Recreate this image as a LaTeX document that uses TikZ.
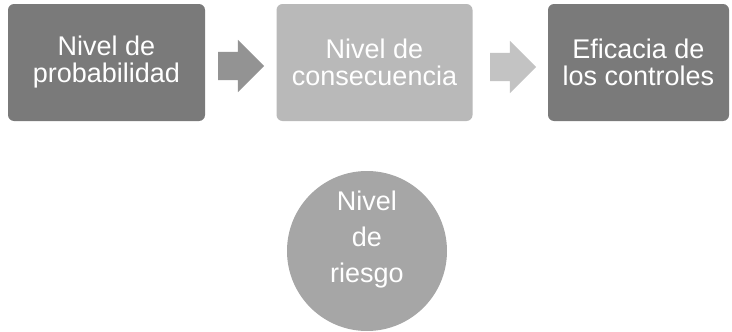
\documentclass[tikz,border=0pt]{standalone}
\usepackage{fontspec}
\setmainfont{Liberation Sans}
\usepackage{tikz}
\usetikzlibrary{shapes.arrows}
\definecolor{darkstep}{HTML}{7A7A7A}
\definecolor{lightstep}{HTML}{B9B9B9}
\definecolor{riskfill}{HTML}{A6A6A6}

\begin{document}
\begin{tikzpicture}[x=1pt,y=-1pt,
  stepbox/.style={rounded corners=6pt,minimum height=117pt,align=center,text=white,
    font=\fontsize{27}{27}\selectfont,inner sep=0pt},
  stepArrow/.style={single arrow,minimum height=46pt,minimum width=52pt,
    single arrow head extend=12pt,inner xsep=0pt,inner ysep=14pt}]
  \useasboundingbox (0,0) rectangle (732,332);
  \node[stepbox,fill=darkstep,minimum width=197pt] (prob) at (106.5,62.5) {Nivel de\\probabilidad};
  \node[stepbox,fill=lightstep,minimum width=196pt] (cons) at (374.5,62.5) {Nivel de\\consecuencia};
  \node[stepbox,fill=darkstep,minimum width=181pt] (ctrl) at (638.5,62.5) {Eficacia de\\los controles};
  \node[stepArrow,fill=gray!85] (arr1) at (234,66) {};
  \node[stepArrow,fill=lightstep!85] (arr2) at (506,67) {};
  % resultado
  \node[circle,fill=riskfill,minimum size=160pt,inner sep=0pt] (riesgo) at (367,251) {};
  \node[align=center,text=white,font=\fontsize{27}{36}\selectfont] (riesgotxt)
    at (367,240) {Nivel\\de\\riesgo};
\end{tikzpicture}
\end{document}
